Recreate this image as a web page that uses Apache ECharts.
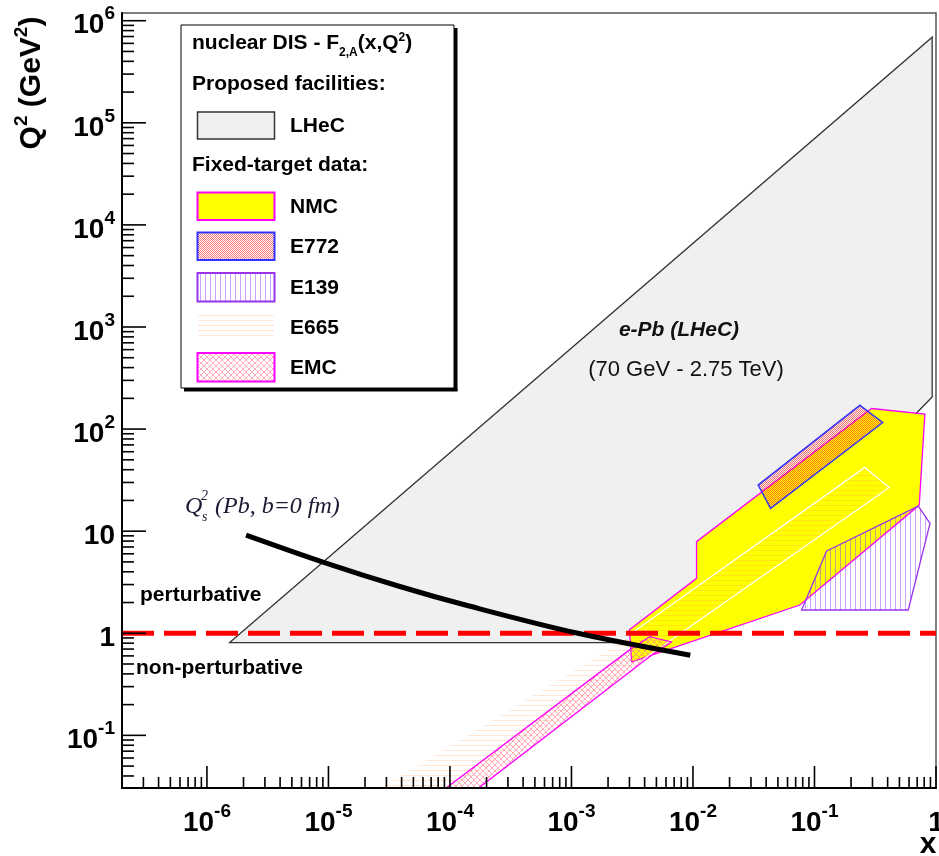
<!DOCTYPE html>
<html><head><meta charset="utf-8">
<script src="https://cdn.jsdelivr.net/npm/echarts@6/dist/echarts.min.js"></script>
<style>html,body{margin:0;padding:0;background:#fff;overflow:hidden}#c{width:939px;height:856px}</style>
</head><body><div id="c"></div>
<script>
// ---------- axis ranges ----------
const X_MIN = 2e-7, X_MAX = 1;
const Y_MIN = 0.0305, Y_MAX = 1.19e6;
const PERT_BOUNDARY = 1; // Q^2 = 1 GeV^2

// ---------- regions (x, Q^2) ----------
const lhecRegion = [[1.54e-6, 0.81], [0.93, 6.89e5], [0.93, 206], [0.695, 144.5], [3.95e-3, 0.81]];
const nmcRegion  = [[3.0e-3, 1.08], [0.0107, 3.45], [0.0107, 7.9], [0.295, 159], [0.81, 140], [0.728, 18], [0.0758, 1.89], [3.13e-3, 0.524]];
const e772Region = [[0.2366, 171], [0.364, 116], [0.0435, 16.7], [0.0344, 28.3]];
const e139Region = [[0.1259, 6.39], [0.715, 17.6], [0.893, 11.9], [0.591, 1.69], [0.0783, 1.69]];
const e665Region = [[0.260, 42.1], [0.412, 26.8], [1.19e-4, 0.0305], [2.65e-5, 0.0305], [2.28e-3, 0.768]];
const emcRegion  = [[9.3e-5, 0.0305], [1.75e-4, 0.031], [4.58e-3, 0.613], [6.65e-3, 0.822], [4.41e-3, 0.926], [3.01e-3, 0.687]];
// saturation scale Q_s^2 (Pb, b=0 fm)
const qsLine = [[2.1e-6, 9.16], [9.4e-6, 4.90], [3.87e-5, 2.87], [1.34e-4, 1.89], [1.13e-3, 1.0], [9.5e-3, 0.61]];

// ---------- legend entries ----------
const legendTitle = 'nuclear DIS - F';
const legendFacilities = ['LHeC'];
const legendData = ['NMC', 'E772', 'E139', 'E665', 'EMC'];

const F = '"Liberation Sans", Arial, Helvetica, sans-serif';
const FS = '"Liberation Serif", "Times New Roman", serif';

// ---------- hatch patterns ----------
function mkCanvas(w, h, draw) {
  const c = document.createElement('canvas'); c.width = w; c.height = h;
  const g = c.getContext('2d'); draw(g, w, h); return c;
}
const patE772 = mkCanvas(2, 2, g => { g.fillStyle = 'rgba(255,30,30,0.6)'; g.fillRect(0, 0, 1, 1); g.fillRect(1, 1, 1, 1); });
const patE139 = mkCanvas(5, 5, g => { g.fillStyle = 'rgba(150,70,255,0.5)'; g.fillRect(0, 0, 1, 5); });
const patE665 = mkCanvas(5, 5, g => { g.fillStyle = 'rgba(255,150,80,0.24)'; g.fillRect(0, 0, 5, 1); });
const patEMC = mkCanvas(6, 6, g => {
  g.strokeStyle = 'rgba(255,120,140,0.6)'; g.lineWidth = 1;
  g.beginPath(); g.moveTo(0, 0); g.lineTo(6, 6); g.moveTo(6, 0); g.lineTo(0, 6);
  g.moveTo(-3, 3); g.lineTo(3, 9); g.moveTo(3, -3); g.lineTo(9, 3);
  g.moveTo(9, 3); g.lineTo(3, 9); g.moveTo(3, -3); g.lineTo(-3, 3); g.stroke();
});
const pat = c => ({ image: c, repeat: 'repeat' });

const styles = {
  LHeC: { fill: '#f0f0f0', stroke: '#333', lineWidth: 1.3 },
  NMC:  { fill: '#ffff00', stroke: '#ff00ff', lineWidth: 1.3 },
  E665: { fill: pat(patE665), stroke: '#ffffff', lineWidth: 1.3 },
  E139: { fill: pat(patE139), stroke: '#9933ee', lineWidth: 1.3 },
  E772: { fill: pat(patE772), stroke: '#3333ff', lineWidth: 1.5 },
  EMC:  { fill: pat(patEMC), stroke: '#ff00ff', lineWidth: 1.3 }
};

function polySeries(name, pts, z) {
  return {
    type: 'custom', name, coordinateSystem: 'cartesian2d', clip: true, z, silent: true,
    data: pts, encode: { x: 0, y: 1 },
    renderItem: (params, api) => {
      if (params.dataIndex !== 0) return null;
      return { type: 'polygon', shape: { points: pts.map(p => api.coord(p)) }, style: Object.assign({}, styles[name]) };
    }
  };
}

// ---------- ticks ----------
function tickValues(lo, hi) {
  const out = [];
  for (let e = Math.floor(Math.log10(lo)); e <= Math.ceil(Math.log10(hi)); e++)
    for (let k = 1; k <= 9; k++) {
      const v = k * Math.pow(10, e);
      if (v >= lo * 0.999 && v <= hi * 1.001) out.push([v, k === 1]);
    }
  return out;
}
const xTicks = tickValues(X_MIN, X_MAX).map(([v, m]) => [v, Y_MIN, m ? 22 : 11]);
const yTicks = tickValues(Y_MIN, Y_MAX).map(([v, m]) => [X_MIN, v, m ? 24 : 12]);

function decadeLabel(v) {
  const l = Math.log10(v), e = Math.round(l);
  if (Math.abs(l - e) > 1e-6) return '';
  if (e === 0) return '{b|1}';
  if (e === 1) return '{b|10}';
  return '{b|10}{s|' + e + '}';
}
const labelRich = {
  b: { fontSize: 28, fontWeight: 'bold', fontFamily: F, color: '#000', lineHeight: 28, padding: [10, 0, 0, 0] },
  s: { fontSize: 19, fontWeight: 'bold', fontFamily: F, color: '#000', lineHeight: 19, padding: [0, 0, 13, 0] }
};

function txt(x, y, text, o) {
  return { type: 'text', x, y, z: 100, silent: true,
    style: Object.assign({ text, fill: '#000', fontFamily: F, fontSize: 21, fontWeight: 'bold', align: 'left', verticalAlign: 'middle' }, o || {}) };
}
function box(x, y, w, h, style) {
  return { type: 'rect', z: 100, silent: true, shape: { x, y, width: w, height: h }, style };
}

const LX = 197.5, LW = 77, LT = 290;
const graphics = [
  box(454, 28, 3.5, 363, { fill: '#000' }),
  box(184, 388, 273.5, 3.5, { fill: '#000' }),
  box(181, 25, 273, 363, { fill: '#fff', stroke: '#000', lineWidth: 1 }),
  txt(192, 43, '{t|' + legendTitle + '}{sub|2,A}{t|(x,Q}{sup|2}{t|)}', {
    rich: {
      t: { fontSize: 21, fontWeight: 'bold', fontFamily: F, lineHeight: 24 },
      sub: { fontSize: 12, fontWeight: 'bold', fontFamily: F, lineHeight: 12, padding: [20, 0, 0, 0] },
      sup: { fontSize: 12, fontWeight: 'bold', fontFamily: F, lineHeight: 12, padding: [0, 0, 10, 0] }
    }
  }),
  txt(192, 84, 'Proposed facilities:'),
  box(LX, 112, LW, 27, Object.assign({}, styles.LHeC, { lineWidth: 1.5 })),
  txt(LT, 126, legendFacilities[0]),
  txt(192, 165, 'Fixed-target data:'),
  box(LX, 192.5, LW, 27.5, Object.assign({}, styles.NMC, { lineWidth: 2 })),
  txt(LT, 207, legendData[0]),
  box(LX, 232.5, LW, 27.5, Object.assign({}, styles.E772, { lineWidth: 2 })),
  txt(LT, 247, legendData[1]),
  box(LX, 273, LW, 28.5, Object.assign({}, styles.E139, { lineWidth: 2 })),
  txt(LT, 288, legendData[2]),
  box(LX, 314, LW, 26, { fill: pat(patE665), stroke: '#fff', lineWidth: 1 }),
  txt(LT, 328, legendData[3]),
  box(LX, 353, LW, 28.5, Object.assign({}, styles.EMC, { lineWidth: 2 })),
  txt(LT, 368, legendData[4]),
  // annotations
  txt(679, 330, 'e-Pb (LHeC)', { align: 'center', fontStyle: 'italic', fontSize: 21, fill: '#111' }),
  txt(686, 370, '(70 GeV - 2.75 TeV)', { align: 'center', fontWeight: 'normal', fontSize: 22, fill: '#111' }),
  txt(185, 507, 'Q', { fontFamily: FS, fontStyle: 'italic', fontWeight: 'normal', fontSize: 24, fill: '#1a1a33' }),
  txt(201, 496, '2', { fontFamily: FS, fontStyle: 'italic', fontWeight: 'normal', fontSize: 14, fill: '#1a1a33' }),
  txt(202, 517, 's', { fontFamily: FS, fontStyle: 'italic', fontWeight: 'normal', fontSize: 14, fill: '#1a1a33' }),
  txt(215, 507, '(Pb, b=0 fm)', { fontFamily: FS, fontStyle: 'italic', fontWeight: 'normal', fontSize: 24, fill: '#1a1a33' }),
  txt(140, 595, 'perturbative'),
  txt(136, 668, 'non-perturbative'),
  // axis titles
  { type: 'text', x: 32, y: 83, rotation: Math.PI / 2, z: 100, silent: true,
    style: { text: '{t|Q}{s|2}{t| (GeV}{s|2}{t|)}', align: 'center', verticalAlign: 'middle',
      rich: {
        t: { fontSize: 30, fontWeight: 'bold', fontFamily: F, fill: '#000', lineHeight: 30 },
        s: { fontSize: 19, fontWeight: 'bold', fontFamily: F, fill: '#000', lineHeight: 19, padding: [0, 0, 20, 0] }
      } } },
  txt(928, 845, 'x', { align: 'center', fontSize: 30 })
];

const chart = echarts.init(document.getElementById('c'), null, { renderer: 'canvas' });
chart.setOption({
  animation: false,
  backgroundColor: '#fff',
  grid: { left: 122, right: 3, top: 13, bottom: 68, show: true, borderColor: '#555', borderWidth: 1.5, backgroundColor: 'transparent',
    containLabel: false, outerBoundsMode: 'none' },
  xAxis: {
    type: 'log', logBase: 10, min: X_MIN, max: X_MAX, splitNumber: 10, z: 10,
    axisLine: { show: true, onZero: false, lineStyle: { color: '#000', width: 2 } },
    axisTick: { show: false }, splitLine: { show: false }, minorTick: { show: false }, minorSplitLine: { show: false },
    axisLabel: { margin: 16, formatter: decadeLabel, rich: labelRich, color: '#000', hideOverlap: false }
  },
  yAxis: {
    type: 'log', logBase: 10, min: Y_MIN, max: Y_MAX, splitNumber: 10, z: 10,
    axisLine: { show: true, onZero: false, lineStyle: { color: '#000', width: 2 } },
    axisTick: { show: false }, splitLine: { show: false }, minorTick: { show: false }, minorSplitLine: { show: false },
    axisLabel: { margin: 7, formatter: decadeLabel, rich: labelRich, color: '#000', hideOverlap: false }
  },
  series: [
    polySeries('LHeC', lhecRegion, 1),
    polySeries('NMC', nmcRegion, 2),
    polySeries('E665', e665Region, 3),
    polySeries('E139', e139Region, 4),
    polySeries('E772', e772Region, 5),
    polySeries('EMC', emcRegion, 6),
    { type: 'line', name: 'boundary', data: [[X_MIN, PERT_BOUNDARY], [X_MAX, PERT_BOUNDARY]], symbol: 'none', silent: true, z: 7,
      lineStyle: { color: '#ff0000', width: 5, type: [32, 10], cap: 'butt' } },
    { type: 'line', name: 'Qs', data: qsLine, symbol: 'none', smooth: 0.35, silent: true, z: 8,
      lineStyle: { color: '#000', width: 5 } },
    { type: 'custom', name: 'xticks', coordinateSystem: 'cartesian2d', data: xTicks, encode: { x: 0, y: 1 }, z: 9, silent: true,
      renderItem: (params, api) => {
        const p = api.coord([api.value(0), api.value(1)]);
        return { type: 'line', shape: { x1: p[0], y1: p[1], x2: p[0], y2: p[1] - api.value(2) }, style: { stroke: '#000', lineWidth: 1.6 } };
      } },
    { type: 'custom', name: 'yticks', coordinateSystem: 'cartesian2d', data: yTicks, encode: { x: 0, y: 1 }, z: 9, silent: true,
      renderItem: (params, api) => {
        const p = api.coord([api.value(0), api.value(1)]);
        return { type: 'line', shape: { x1: p[0], y1: p[1], x2: p[0] + api.value(2), y2: p[1] }, style: { stroke: '#000', lineWidth: 1.6 } };
      } }
  ],
  graphic: { elements: graphics }
});
</script>
</body></html>
